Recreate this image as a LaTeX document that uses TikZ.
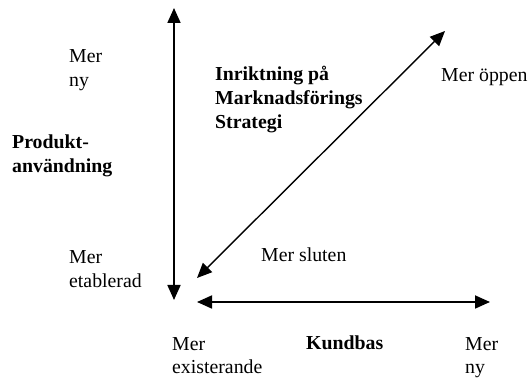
\documentclass[tikz,border=0pt]{standalone}
\usepackage{fontspec}
\setmainfont{Liberation Serif}
\usetikzlibrary{arrows.meta}
\tikzset{
  axis/.style={line width=1.8pt, {Triangle[length=15pt,width=13pt]}-{Triangle[length=15pt,width=13pt]}},
  diag/.style={line width=1.4pt, {Triangle[length=15pt,width=13pt]}-{Triangle[length=15pt,width=13pt]}},
  lbl/.style={inner sep=0pt, anchor=base west, align=left, font=\fontsize{19.8}{24}\selectfont},
  blbl/.style={lbl, font=\fontsize{19.8}{24}\selectfont\bfseries}
}
\begin{document}
\begin{tikzpicture}[x=1pt,y=-1pt]
\useasboundingbox (0,0) rectangle (531,382);
\coordinate (vtop) at (174,8);
\coordinate (vbot) at (174,300);
\coordinate (hleft) at (197,302);
\coordinate (hright) at (490,302);
\coordinate (dlow) at (197,278);
\coordinate (dhigh) at (445,31);
\draw[axis] (vbot) -- (vtop);
\draw[axis] (hleft) -- (hright);
\draw[diag] (dlow) -- (dhigh);
\node[lbl] (yhigh) at (69,87) {Mer\\ny};
\node[blbl] (ylabel) at (12,173) {Produkt-\\användning};
\node[lbl] (ylow) at (69,288) {Mer\\etablerad};
\node[blbl] (dlabel) at (215,129) {Inriktning på\\Marknadsförings\\Strategi};
\node[lbl] (dhighlbl) at (441,82) {Mer öppen};
\node[lbl] (dlowlbl) at (261,262) {Mer sluten};
\node[lbl] (xlow) at (172,374) {Mer\\existerande};
\node[blbl] (xlabel) at (306,350) {Kundbas};
\node[lbl] (xhigh) at (465,374) {Mer\\ny};
\end{tikzpicture}
\end{document}
